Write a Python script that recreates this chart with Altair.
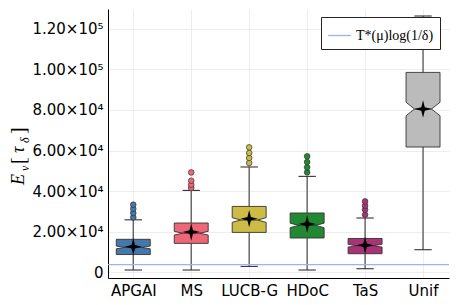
import altair as alt
import pandas as pd

# ---------------- data ----------------
categories = ["APGAI", "MS", "LUCB-G", "HDoC", "TaS", "Unif"]
box_colors = ["#4477AA", "#EE6677", "#CCBB44", "#228833", "#AA3377", "#BBBBBB"]
whisker_lo = [1180, 1180, 2960, 1180, 1820, 11180]
q1 = [8800, 14300, 19700, 16950, 9210, 61750]
median = [12300, 19300, 25800, 23150, 13150, 80460]
q3 = [16300, 24320, 32500, 29260, 16700, 98480]
whisker_hi = [25900, 40380, 51920, 47290, 26790, 126250]
means = [12660, 19890, 26450, 23840, 13400, 80460]
outliers = [
    [27100, 29250, 31370, 33340],
    [41560, 43180, 45150, 49240],
    [53890, 56350, 58820, 61580],
    [49260, 51720, 54380, 57140],
    [28410, 30870, 32840, 34960],
    [],
]
tstar_value = 3800
tstar_label = "T*(μ)log(1/δ)"
y_ticks = [0, 20000, 40000, 60000, 80000, 100000, 120000]

# ---------------- style constants ----------------
HW = 0.293      # half box width (x units)
IND = 0.1465    # notch indent
CAP = 0.15      # whisker cap half width
NOTCH = 0.09    # notch half height as fraction of IQR
FONT = "DejaVu Sans"

# ---------------- derived tables ----------------
box_rows = []
for i, c in enumerate(categories):
    pos = i + 1
    n = NOTCH * (q3[i] - q1[i])
    ys = [q1[i], median[i] - n, median[i], median[i] + n, q3[i]]
    xl = [pos - HW, pos - HW, pos - HW + IND, pos - HW, pos - HW]
    xr = [pos + HW, pos + HW, pos + HW - IND, pos + HW, pos + HW]
    for k in range(5):
        box_rows.append(dict(cat=c, y=ys[k], xl=xl[k], xr=xr[k], color=box_colors[i]))
box_df = pd.DataFrame(box_rows)

stat_df = pd.DataFrame(dict(
    cat=categories,
    pos=list(range(1, len(categories) + 1)),
    lo=whisker_lo, q1=q1, med=median, q3=q3, hi=whisker_hi, mean=means,
    color=box_colors,
))
stat_df["cl"] = stat_df["pos"] - CAP
stat_df["cr"] = stat_df["pos"] + CAP
stat_df["ml"] = stat_df["pos"] - HW + IND
stat_df["mr"] = stat_df["pos"] + HW - IND

out_rows = []
for i, c in enumerate(categories):
    for v in outliers[i]:
        out_rows.append(dict(cat=c, pos=i + 1, v=v, color=box_colors[i]))
out_df = pd.DataFrame(out_rows)

label_expr = "[" + ",".join("'%s'" % c for c in categories) + "][datum.value-1]"

xscale = alt.Scale(domain=[0.564, 6.448], nice=False, zero=False)
yscale = alt.Scale(domain=[-2750, 129700], nice=False, zero=False)

x_axis = alt.Axis(values=list(range(1, len(categories) + 1)), labelExpr=label_expr,
                  title=None, ticks=False, domainColor="black", grid=True,
                  labelFontSize=15, labelFont=FONT, labelColor="black", labelPadding=5)
y_axis = alt.Axis(values=y_ticks, title=None, ticks=False, domainColor="black", grid=True,
                  labelFontSize=15, labelFont=FONT, labelColor="black", labelPadding=5,
                  labelExpr="datum.value == 0 ? '0' : format(datum.value / pow(10, floor(log(datum.value)/LN10)), '.2f') + '×10' + (floor(log(datum.value)/LN10) == 5 ? '⁵' : '⁴')")

base_stat = alt.Chart(stat_df)

# grid / axes carrier
axes = base_stat.mark_point(opacity=0).encode(
    x=alt.X("pos:Q", scale=xscale, axis=x_axis),
    y=alt.Y("med:Q", scale=yscale, axis=y_axis),
)

whisk_up = base_stat.mark_rule(color="#555555", strokeWidth=1.3).encode(
    x=alt.X("pos:Q", scale=xscale), y="q3:Q", y2="hi:Q")
whisk_dn = base_stat.mark_rule(color="#555555", strokeWidth=1.3).encode(
    x=alt.X("pos:Q", scale=xscale), y="lo:Q", y2="q1:Q")
cap_up = base_stat.mark_rule(color="#333333", strokeWidth=1.1).encode(
    x=alt.X("cl:Q", scale=xscale), x2="cr:Q", y="hi:Q")
cap_dn = base_stat.mark_rule(color="#333333", strokeWidth=1.1).encode(
    x=alt.X("cl:Q", scale=xscale), x2="cr:Q", y="lo:Q")

boxes = alt.Chart(box_df).mark_area(orient="horizontal", stroke="#333333", strokeWidth=0.9,
                                    opacity=1).encode(
    y=alt.Y("y:Q", scale=yscale),
    x=alt.X("xl:Q", scale=xscale),
    x2="xr:Q",
    detail="cat:N",
    fill=alt.Fill("color:N", scale=None),
)

med_line = base_stat.mark_rule(color="#333333", strokeWidth=0.9).encode(
    x=alt.X("ml:Q", scale=xscale), x2="mr:Q", y="med:Q")

tstar_df = pd.DataFrame(dict(v=[tstar_value], name=[tstar_label]))
tline = alt.Chart(tstar_df).mark_rule(strokeWidth=1.3).encode(
    y=alt.Y("v:Q", scale=yscale),
    color=alt.Color("name:N", scale=alt.Scale(domain=[tstar_label], range=["#9db3ee"]),
                    legend=alt.Legend(title=None, orient="none", legendX=213, legendY=8,
                                      symbolType="stroke", symbolSize=520, symbolStrokeWidth=1.3,
                                      labelFont="Liberation Serif", labelFontSize=14,
                                      labelColor="black", padding=6,
                                      strokeColor="#222222", fillColor="white",
                                      cornerRadius=0, labelLimit=300)),
)

outs = alt.Chart(out_df).mark_point(filled=True, size=32, shape="circle", stroke="#333333",
                                    strokeWidth=0.7, opacity=1).encode(
    x=alt.X("pos:Q", scale=xscale), y=alt.Y("v:Q", scale=yscale),
    fill=alt.Fill("color:N", scale=None))

star = "M0,-1L0.2,-0.2L1,0L0.2,0.2L0,1L-0.2,0.2L-1,0L-0.2,-0.2Z"
mean_pts = base_stat.mark_point(filled=True, shape=star, size=300, color="black", opacity=1).encode(
    x=alt.X("pos:Q", scale=xscale), y=alt.Y("mean:Q", scale=yscale))

# y-axis title E_ν[τ_δ] built from rotated text pieces
title_pieces = pd.DataFrame(dict(
    t=["E", "ν", "[", "τ", "δ", "]"],
    px=[-84, -79, -83, -84, -79, -83],
    py=[176, 162, 155, 144, 134, 125],
    fs=[18, 12, 20, 18, 12, 20],
    st=["italic", "italic", "normal", "italic", "italic", "normal"],
))
title_layers = []
for _, r in title_pieces.iterrows():
    title_layers.append(
        alt.Chart(pd.DataFrame(dict(t=[r.t]))).mark_text(
            angle=270, align="left", baseline="alphabetic", font="Liberation Serif",
            fontSize=int(r.fs), fontStyle=r.st, color="black",
        ).encode(text="t:N", x=alt.value(int(r.px)), y=alt.value(int(r.py)))
    )

chart = alt.layer(
    axes, whisk_up, whisk_dn, cap_up, cap_dn, boxes, med_line, tline, outs, mean_pts, *title_layers
).properties(
    width=341, height=269,
    autosize=alt.AutoSizeParams(type="none"),
    padding={"left": 100, "top": 1, "right": 1, "bottom": 22},
    background="white",
).configure_view(stroke=None).configure_axis(
    gridColor="#e8e8e8", gridWidth=0.8, domainWidth=1
)

chart.save("out.html", embed_options={"renderer": "svg", "actions": False})
